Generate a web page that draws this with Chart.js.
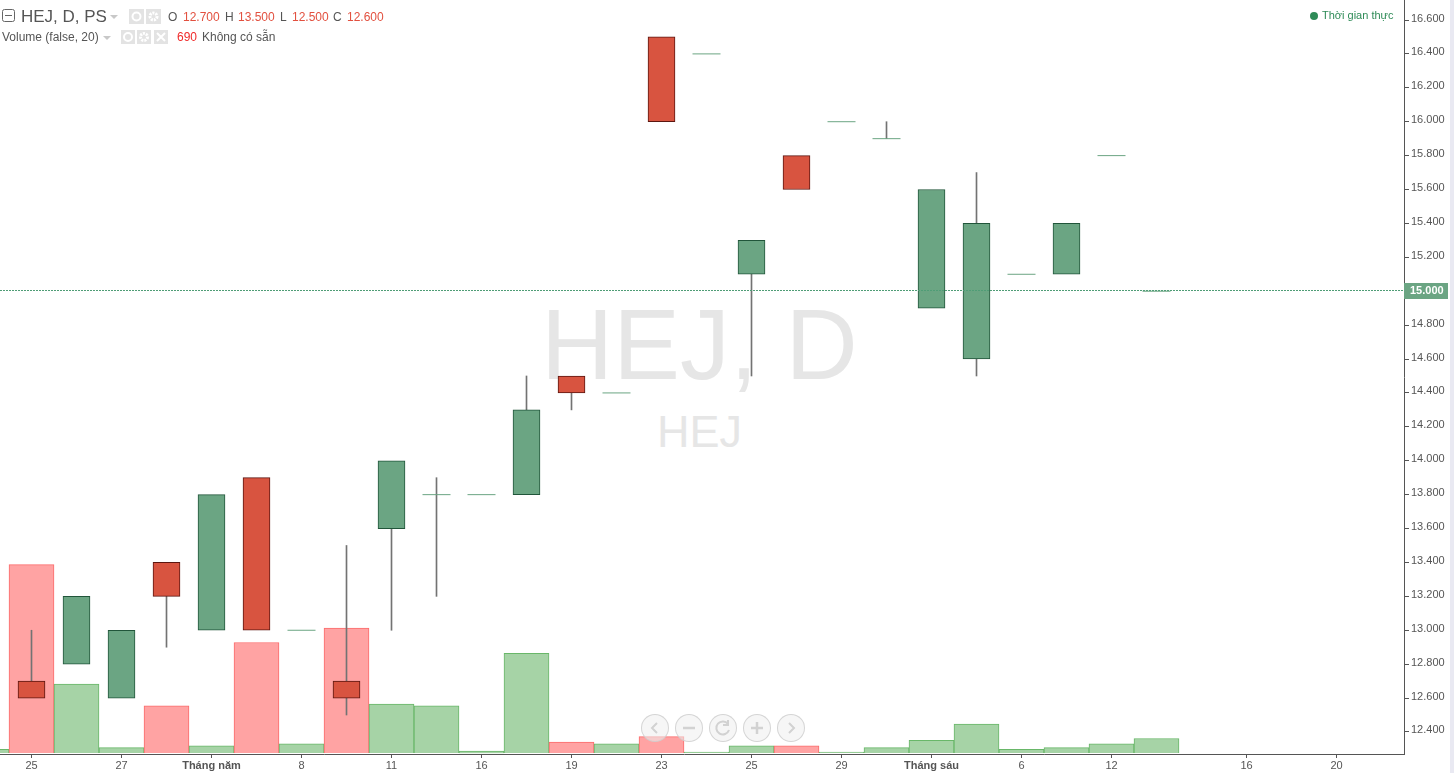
<!DOCTYPE html>
<html>
<head>
<meta charset="utf-8">
<title>HEJ, D</title>
<script src="https://cdn.jsdelivr.net/npm/chart.js@4"></script>
<style>
  html, body { margin: 0; padding: 0; background: #fff; overflow: hidden; }
  body { width: 1454px; height: 773px; position: relative; font-family: "Liberation Sans", Arial, sans-serif; color: #555; }
  #chart { position: absolute; left: -36px; top: 0; z-index: 2; }
  .t { position: absolute; white-space: nowrap; line-height: 1; }
  .mark { color: #e6e6e6; z-index: 1; }
  .top { z-index: 3; }
  .red { color: #e2503f; }
  .ic { position: absolute; z-index: 3; width: 15px; height: 15px; background: #e3e3e3; }
  .ic svg { display: block; }
  .caret { position: absolute; z-index: 3; width: 0; height: 0; border-left: 4.5px solid transparent; border-right: 4.5px solid transparent; border-top: 4px solid #c8c8c8; }
  .btn { position: absolute; z-index: 4; width: 26px; height: 26px; top: 714px; border: 1.5px solid rgba(205,205,205,.8); border-radius: 50%; background: rgba(238,238,238,.55); }
  .btn svg { display: block; }
  #strip { position: absolute; left: 1450px; top: 0; width: 4px; height: 773px; background: #e9e9f2; z-index: 3; }
  #dot { position: absolute; left: 1310px; top: 12px; width: 8px; height: 8px; border-radius: 50%; background: #2e8b57; z-index: 3; }
</style>
</head>
<body>
<div class="t mark" style="left:541px;top:294px;font-size:100px">HEJ, D</div>
<div class="t mark" style="left:657px;top:409px;font-size:45px">HEJ</div>
<canvas id="chart" width="1490" height="773"></canvas>

<svg style="position:absolute;left:2px;top:9px;z-index:3" width="13" height="13"><rect x="0.5" y="0.5" width="12" height="12" rx="2" fill="none" stroke="#666"/><path d="M3 6.5H10" stroke="#666"/></svg>
<div class="t top" style="left:21px;top:8px;font-size:17px">HEJ, D, PS</div>
<div class="caret" style="left:110px;top:15px"></div>
<div class="ic" style="left:129px;top:9px"><svg width="15" height="15"><circle cx="7.5" cy="7.5" r="4" fill="none" stroke="#fff" stroke-width="2"/></svg></div>
<div class="ic" style="left:146px;top:9px"><svg width="15" height="15"><circle cx="7.5" cy="7.5" r="3.5" fill="none" stroke="#fff" stroke-width="3" stroke-dasharray="2 1"/></svg></div>
<div class="t top" style="left:168px;top:11px;font-size:12px">O</div>
<div class="t top red" style="left:183px;top:11px;font-size:12px">12.700</div>
<div class="t top" style="left:225px;top:11px;font-size:12px">H</div>
<div class="t top red" style="left:238px;top:11px;font-size:12px">13.500</div>
<div class="t top" style="left:280px;top:11px;font-size:12px">L</div>
<div class="t top red" style="left:292px;top:11px;font-size:12px">12.500</div>
<div class="t top" style="left:333px;top:11px;font-size:12px">C</div>
<div class="t top red" style="left:347px;top:11px;font-size:12px">12.600</div>

<div class="t top" style="left:2px;top:31px;font-size:12px">Volume (false, 20)</div>
<div class="caret" style="left:103px;top:36px"></div>
<div class="ic" style="left:121px;top:30px;width:14px;height:14px"><svg width="14" height="14"><circle cx="7" cy="7" r="4" fill="none" stroke="#fff" stroke-width="2"/></svg></div>
<div class="ic" style="left:137px;top:30px;width:14px;height:14px"><svg width="14" height="14"><circle cx="7" cy="7" r="3.5" fill="none" stroke="#fff" stroke-width="3" stroke-dasharray="2 1"/></svg></div>
<div class="ic" style="left:154px;top:30px;width:14px;height:14px"><svg width="14" height="14"><path d="M3 3L11 11M11 3L3 11" stroke="#fff" stroke-width="2"/></svg></div>
<div class="t top" style="left:177px;top:31px;font-size:12px;color:#f02a2a">690</div>
<div class="t top" style="left:202px;top:31px;font-size:12px">Không có sẵn</div>

<div id="dot"></div>
<div class="t top" style="left:1322px;top:10px;font-size:11px;color:#2e8b57">Thời gian thực</div>
<div id="strip"></div>

<div class="btn" style="left:641px"><svg width="26" height="26"><path d="M15 8L10 13L15 18" fill="none" stroke="#d2d2d2" stroke-width="2"/></svg></div>
<div class="btn" style="left:675px"><svg width="26" height="26"><path d="M7 13H19" fill="none" stroke="#d2d2d2" stroke-width="2.5"/></svg></div>
<div class="btn" style="left:709px"><svg width="26" height="26"><path d="M18 9A6.5 6.5 0 1 0 19 15M18 5V10H13" fill="none" stroke="#d2d2d2" stroke-width="2"/></svg></div>
<div class="btn" style="left:743px"><svg width="26" height="26"><path d="M7 13H19M13 7V19" fill="none" stroke="#d2d2d2" stroke-width="2.5"/></svg></div>
<div class="btn" style="left:777px"><svg width="26" height="26"><path d="M11 8L16 13L11 18" fill="none" stroke="#d2d2d2" stroke-width="2"/></svg></div>

<script>
// one bar before the first label, then 26 sessions, then empty future slots
const dayLabels = ['', '25', '', '27', '', 'Tháng năm', '', '8', '', '11', '', '16', '', '19', '', '23', '', '25', '', '29', '', 'Tháng sáu', '', '6', '', '12', '', '', '16', '', '20', '']
const opens  = [null, 12.7, 12.8, 12.6, 13.4, 13.0, 13.9, 13.0, 12.7, 13.6, 13.8, 13.8, 13.8, 14.5, 14.4, 16.5, 16.4, 15.1, 15.8, 16.0, 15.9, 14.9, 14.6, 15.1, 15.1, 15.8, 15.0]
const highs  = [null, 13.0, 13.2, 13.0, 13.4, 13.8, 13.9, 13.0, 13.5, 14.0, 13.9, 13.8, 14.5, 14.5, 14.4, 16.5, 16.4, 15.3, 15.8, 16.0, 16.0, 15.6, 15.7, 15.1, 15.4, 15.8, 15.0]
const lows   = [null, 12.6, 12.8, 12.6, 12.9, 13.0, 13.0, 13.0, 12.5, 13.0, 13.2, 13.8, 13.8, 14.3, 14.4, 16.0, 16.4, 14.5, 15.6, 16.0, 15.9, 14.9, 14.5, 15.1, 15.1, 15.8, 15.0]
const closes = [null, 12.6, 13.2, 13.0, 13.2, 13.8, 13.0, 13.0, 12.6, 14.0, 13.8, 13.8, 14.3, 14.4, 14.4, 16.0, 16.4, 15.3, 15.6, 16.0, 15.9, 15.6, 15.4, 15.1, 15.4, 15.8, 15.0]
const volumes = [20, 1040, 380, 30, 260, 40, 610, 50, 690, 270, 260, 10, 550, 60, 50, 90, 5, 40, 40, 5, 30, 70, 160, 20, 30, 50, 80]
const priceTicks = [12.4, 12.6, 12.8, 13.0, 13.2, 13.4, 13.6, 13.8, 14.0, 14.2, 14.4, 14.6, 14.8, 15.0, 15.2, 15.4, 15.6, 15.8, 16.0, 16.2, 16.4, 16.6]
const lastPrice = 15.0

const RED = '#d85440', RED_EDGE = '#5c1610'
const GREEN = '#6ba583', GREEN_EDGE = '#21553a'
const isDown = (i) => closes[i] !== null ? closes[i] < opens[i] : false

// price label and dotted line of the last price
const lastPricePlugin = {
    id: 'lastPrice',
    afterDatasetsDraw: (chart) => {
        const { ctx, chartArea, scales } = chart
        const y = Math.round(scales.y.getPixelForValue(lastPrice)) - 0.5
        ctx.save()
        ctx.strokeStyle = '#4f9d76'
        ctx.lineWidth = 1
        ctx.setLineDash([2, 1])
        ctx.beginPath()
        ctx.moveTo(chartArea.left, y)
        ctx.lineTo(chartArea.right, y)
        ctx.stroke()
        ctx.setLineDash([])
        ctx.fillStyle = GREEN
        ctx.fillRect(chartArea.right, y - 7.5, 44, 16)
        ctx.fillStyle = '#fff'
        ctx.font = 'bold 11px "Liberation Sans"'
        ctx.textBaseline = 'middle'
        ctx.fillText(lastPrice.toFixed(3), chartArea.right + 6, y + 0.5)
        ctx.restore()
    }
}

new Chart(document.getElementById('chart'), {
    data: {
        labels: dayLabels,
        datasets: [
            {
                type: 'bar',
                yAxisID: 'v',
                order: 4,
                grouped: false,
                data: volumes,
                categoryPercentage: 1,
                barPercentage: 1,
                borderWidth: 1,
                backgroundColor: volumes.map((v, i) => isDown(i) ? '#ffa3a3' : '#a6d3a6'),
                borderColor: volumes.map((v, i) => isDown(i) ? '#fb6b6b' : '#69b769')
            },
            {
                type: 'bar',
                order: 3,
                grouped: false,
                barThickness: 1,
                backgroundColor: '#737373',
                data: highs.map((h, i) => h === null || h === Math.max(opens[i], closes[i]) ? null : [Math.max(opens[i], closes[i]), h])
            },
            {
                type: 'bar',
                order: 3,
                grouped: false,
                barThickness: 1,
                backgroundColor: '#737373',
                data: lows.map((l, i) => l === null || l === Math.min(opens[i], closes[i]) ? null : [l, Math.min(opens[i], closes[i])])
            },
            {
                type: 'bar',
                order: 2,
                grouped: false,
                barThickness: 27,
                borderWidth: 1,
                borderSkipped: false,
                data: opens.map((o, i) => o === null || o === closes[i] ? null : [o, closes[i]]),
                backgroundColor: opens.map((o, i) => isDown(i) ? RED : GREEN),
                borderColor: opens.map((o, i) => isDown(i) ? RED_EDGE : GREEN_EDGE)
            },
            {
                type: 'line',
                order: 1,
                showLine: false,
                pointStyle: 'line',
                pointRadius: 14,
                pointBorderWidth: 1,
                pointBorderColor: GREEN,
                data: opens.map((o, i) => o !== null && o === closes[i] ? o : null)
            }
        ]
    },
    options: {
        responsive: false,
        animation: false,
        layout: { padding: 0, autoPadding: false },
        plugins: { legend: { display: false }, tooltip: { enabled: false } },
        scales: {
            x: {
                offset: true,
                border: { color: '#555' },
                grid: { drawOnChartArea: false, tickLength: 4, color: '#555', offset: false },
                afterFit: (scale) => {
                    scale.height = 19
                    scale.paddingLeft = 0
                    scale.paddingRight = 0
                },
                ticks: {
                    autoSkip: false,
                    maxRotation: 0,
                    padding: 1,
                    color: '#555',
                    font: (ctx) => ({ family: '"Liberation Sans"', size: 11, weight: String(ctx.tick && ctx.tick.label).startsWith('Tháng') ? 'bold' : 'normal' }),
                    callback: (v, i) => dayLabels[i] || null
                }
            },
            y: {
                position: 'right',
                min: 12.27,
                max: 16.718,
                border: { color: '#555' },
                grid: { drawOnChartArea: false, tickLength: 5, color: '#555' },
                afterFit: (scale) => {
                    scale.width = 50
                    scale.paddingTop = 0
                    scale.paddingBottom = 0
                },
                afterBuildTicks: (scale) => { scale.ticks = priceTicks.map((value) => ({ value })) },
                ticks: {
                    padding: 2,
                    labelOffset: -1.5,
                    color: '#555',
                    font: { family: '"Liberation Sans"', size: 11 },
                    callback: (v) => v.toFixed(3)
                }
            },
            v: {
                display: false,
                min: -5.5,
                max: 4156
            }
        }
    },
    plugins: [lastPricePlugin]
})
</script>
</body>
</html>
